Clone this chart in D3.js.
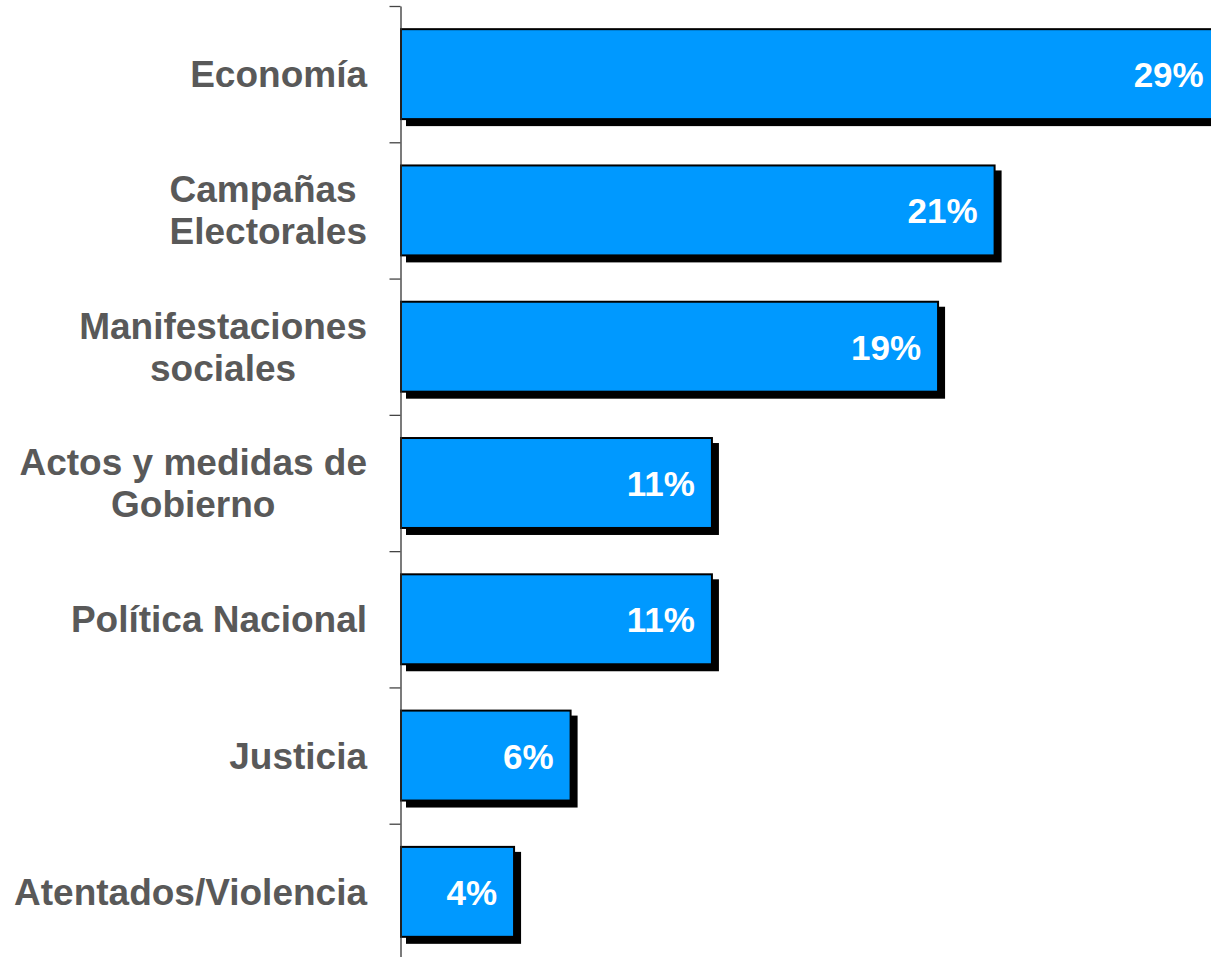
<!DOCTYPE html>
<html>
<head>
<meta charset="utf-8">
<script src="https://cdn.jsdelivr.net/npm/d3@7"></script>
<style>
  body { margin: 0; background: #fff; overflow: hidden; }
  svg { display: block; }
  text { font-family: "Liberation Sans", Arial, sans-serif; font-weight: bold; }
</style>
</head>
<body>
<svg id="graph1"></svg>
<script>
const categories = [
    ["Economía"],
    ["Campañas ", "Electorales"],
    ["Manifestaciones", "sociales"],
    ["Actos y medidas de", "Gobierno"],
    ["Política Nacional"],
    ["Justicia"],
    ["Atentados/Violencia"]
];
const values = [29, 21, 19, 11, 11, 6, 4];
const valueLabels = ["29%", "21%", "19%", "11%", "11%", "6%", "4%"];

const width = 1211,
    height = 957;

const svg = d3.select("#graph1")
    .attr("width", width)
    .attr("height", height);

const axisX = 400.5;
const plotTop = 6, plotBottom = 960;

// band for each category
const y = d3.scaleBand()
    .domain(d3.range(categories.length))
    .range([plotTop, plotBottom])
    .paddingInner(0.34)
    .paddingOuter(0.17);

// index scale so ticks fall between categories
const yIdx = d3.scaleLinear()
    .domain([0, categories.length])
    .range([plotTop, plotBottom]);

const x = d3.scaleLinear()
    .domain([0, 30])
    .range([401, 401 + 848]);

const data = values.map((v, i) => ({ i: i, value: v, label: valueLabels[i], lines: categories[i] }));

// shadows
svg.selectAll("rect.shadow")
    .data(data)
    .enter()
    .append("rect")
    .attr("class", "shadow")
    .attr("x", x(0) + 6)
    .attr("y", d => y(d.i) + 6)
    .attr("width", d => x(d.value) - x(0))
    .attr("height", y.bandwidth())
    .attr("fill", "#000")
    .attr("stroke", "#000")
    .attr("stroke-width", 2);

// bars
svg.selectAll("rect.bar")
    .data(data)
    .enter()
    .append("rect")
    .attr("class", "bar")
    .attr("x", x(0))
    .attr("y", d => y(d.i))
    .attr("width", d => x(d.value) - x(0))
    .attr("height", y.bandwidth())
    .attr("fill", "#0099ff")
    .attr("stroke", "#000")
    .attr("stroke-width", 2);

// axis
const axisG = svg.append("g")
    .attr("transform", "translate(" + axisX + ",0)")
    .call(d3.axisLeft(yIdx)
        .tickValues(d3.range(categories.length))
        .tickFormat("")
        .tickSizeInner(11)
        .tickSizeOuter(0));
axisG.select(".domain").attr("stroke", "#333").attr("stroke-width", 1.3);
axisG.selectAll(".tick line").attr("stroke", "#444").attr("stroke-width", 1.3);

// value labels
svg.selectAll("text.value")
    .data(data)
    .enter()
    .append("text")
    .attr("class", "value")
    .attr("x", d => x(d.value) - 17)
    .attr("y", d => y(d.i) + y.bandwidth() / 2 + 13)
    .attr("text-anchor", "end")
    .attr("font-size", "35px")
    .attr("fill", "#fff")
    .text(d => d.label);

// category labels, centred block with right edge at 367
const labelRight = 367;
const lineH = 42;
data.forEach(d => {
    const t = svg.append("text")
        .attr("font-size", "37px")
        .attr("fill", "#595959")
        .attr("text-anchor", "middle");
    const cy = y(d.i) + y.bandwidth() / 2;
    const n = d.lines.length;
    d.lines.forEach((line, k) => {
        t.append("tspan")
            .attr("y", cy + 13 + (k - (n - 1) / 2) * lineH)
            .text(line);
    });
    let maxW = 0;
    t.selectAll("tspan").each(function() {
        maxW = Math.max(maxW, this.getComputedTextLength());
    });
    t.selectAll("tspan").attr("x", labelRight - maxW / 2);
});
</script>
</body>
</html>
